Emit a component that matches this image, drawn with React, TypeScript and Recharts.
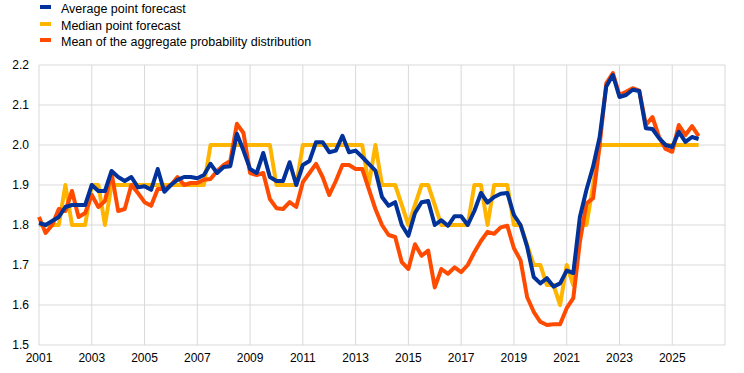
import { LineChart, Line, XAxis, YAxis, CartesianGrid } from 'recharts'

// quarterly survey rounds, 2001Q1 .. 2026Q1
const firstYear = 2001
const xTicks = [2001, 2003, 2005, 2007, 2009, 2011, 2013, 2015, 2017, 2019, 2021, 2023, 2025, 2027]
const yTicks = [1.5, 1.6, 1.7, 1.8, 1.9, 2.0, 2.1, 2.2]

const averageForecast = [
  1.805, 1.8, 1.81, 1.82, 1.845, 1.85, 1.85, 1.85,
  1.9, 1.885, 1.885, 1.935, 1.92, 1.91, 1.92, 1.894,
  1.897, 1.888, 1.94, 1.883, 1.9, 1.913, 1.92, 1.92,
  1.917, 1.925, 1.953, 1.93, 1.945, 1.947, 2.028, 1.986,
  1.94, 1.93, 1.98, 1.92, 1.91, 1.91, 1.957, 1.9,
  1.95, 1.96, 2.007, 2.007, 1.982, 1.986, 2.023, 1.982,
  1.986, 1.97, 1.953, 1.936, 1.87, 1.848, 1.857, 1.8,
  1.773, 1.83, 1.857, 1.86, 1.8, 1.812, 1.798, 1.822,
  1.822, 1.8, 1.835, 1.88, 1.856, 1.87, 1.878, 1.88,
  1.825, 1.8, 1.746, 1.67, 1.654, 1.667, 1.646, 1.654,
  1.686, 1.68, 1.82, 1.888, 1.946, 2.02, 2.146, 2.175,
  2.12, 2.125, 2.138, 2.135, 2.042, 2.04, 2.017, 2.0,
  1.995, 2.033, 2.008, 2.02, 2.015,
]

const medianForecast = [
  1.8, 1.8, 1.8, 1.8, 1.9, 1.8, 1.8, 1.8,
  1.9, 1.9, 1.8, 1.9, 1.9, 1.9, 1.9, 1.9,
  1.9, 1.9, 1.9, 1.9, 1.9, 1.9, 1.9, 1.9,
  1.9, 1.9, 2.0, 2.0, 2.0, 2.0, 2.0, 2.0,
  2.0, 2.0, 2.0, 2.0, 1.9, 1.9, 1.9, 1.9,
  2.0, 2.0, 2.0, 2.0, 2.0, 2.0, 2.0, 2.0,
  2.0, 2.0, 1.9, 2.0, 1.9, 1.9, 1.9, 1.85,
  1.8, 1.85, 1.9, 1.9, 1.85, 1.8, 1.8, 1.8,
  1.8, 1.8, 1.9, 1.9, 1.8, 1.9, 1.9, 1.9,
  1.8, 1.8, 1.75, 1.7, 1.7, 1.65, 1.65, 1.6,
  1.7, 1.65, 1.8, 1.8, 1.9, 2.0, 2.0, 2.0,
  2.0, 2.0, 2.0, 2.0, 2.0, 2.0, 2.0, 2.0,
  2.0, 2.0, 2.0, 2.0, 2.0,
]

const aggregateMean = [
  1.82, 1.78, 1.8, 1.84, 1.835, 1.885, 1.82, 1.83,
  1.875, 1.845, 1.86, 1.93, 1.835, 1.84, 1.9, 1.88,
  1.857, 1.848, 1.89, 1.89, 1.9, 1.92, 1.9, 1.905,
  1.905, 1.913, 1.915, 1.935, 1.95, 1.96, 2.053, 2.03,
  1.93, 1.925, 1.93, 1.865, 1.842, 1.84, 1.857, 1.845,
  1.907, 1.93, 1.953, 1.92, 1.875, 1.91, 1.95, 1.95,
  1.94, 1.94, 1.89, 1.84, 1.8, 1.775, 1.77, 1.707,
  1.69, 1.752, 1.723, 1.736, 1.644, 1.69, 1.678, 1.694,
  1.682, 1.7, 1.732, 1.76, 1.783, 1.778, 1.794, 1.798,
  1.742, 1.712, 1.62, 1.583, 1.558, 1.55, 1.552, 1.552,
  1.592, 1.617, 1.758, 1.854, 1.867, 2.0, 2.154, 2.18,
  2.125, 2.133, 2.142, 2.136, 2.05, 2.07, 2.02, 1.99,
  1.983, 2.05, 2.025, 2.047, 2.022,
]

const series = [
  { key: 'average', name: 'Average point forecast', color: '#003299' },
  { key: 'median', name: 'Median point forecast', color: '#ffb400' },
  { key: 'mean', name: 'Mean of the aggregate probability distribution', color: '#ff4b00' },
]

const data = averageForecast.map((v, i) => ({
  t: firstYear + i / 4,
  average: v,
  median: medianForecast[i],
  mean: aggregateMean[i],
}))

const font = '"Liberation Sans", Arial, sans-serif'

function LegendBox() {
  return (
    <div style={{ position: 'absolute', left: 40, top: 1, fontFamily: font, fontSize: 12.5, color: '#000' }}>
      {series.map((s) => (
        <div key={s.key} style={{ display: 'flex', alignItems: 'center', height: 16.5 }}>
          <span
            style={{
              display: 'inline-block',
              width: 11,
              height: 4,
              background: s.color,
              marginRight: 10,
              marginTop: -4,
            }}
          />
          <span>{s.name}</span>
        </div>
      ))}
    </div>
  )
}

export default function App() {
  const tick = { fill: '#000', fontSize: 12, fontFamily: font }
  return (
    <div style={{ position: 'absolute', left: 0, top: 0, width: 744, height: 373, background: '#fff' }}>
      <LineChart width={744} height={373} data={data} margin={{ top: 65, right: 19, bottom: 0, left: 0 }}>
        <CartesianGrid stroke="#d9d9d9" strokeWidth={1} />
        <XAxis
          dataKey="t"
          type="number"
          domain={[2001, 2027]}
          ticks={xTicks}
          tickFormatter={(v: number) => (v === 2027 ? '' : String(v))}
          axisLine={false}
          tickLine={false}
          tick={tick}
          height={28}
          interval={0}
        />
        <YAxis
          domain={[1.5, 2.2]}
          ticks={yTicks}
          tickFormatter={(v: number) => v.toFixed(1)}
          axisLine={false}
          tickLine={false}
          tick={tick}
          width={39}
          tickMargin={4}
        />
        <Line dataKey="median" stroke="#ffb400" strokeWidth={4} dot={false} isAnimationActive={false} strokeLinejoin="round" />
        <Line dataKey="mean" stroke="#ff4b00" strokeWidth={4} dot={false} isAnimationActive={false} strokeLinejoin="round" />
        <Line dataKey="average" stroke="#003299" strokeWidth={4} dot={false} isAnimationActive={false} strokeLinejoin="round" />
      </LineChart>
      <LegendBox />
    </div>
  )
}
